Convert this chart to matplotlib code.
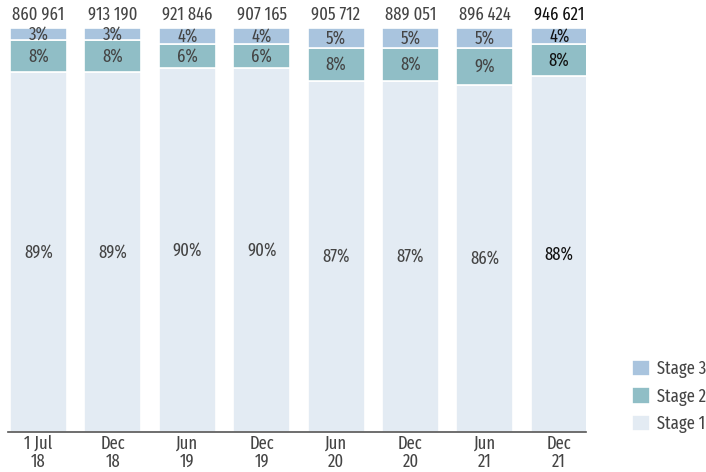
import numpy as np
import matplotlib.pyplot as plt

plt.rcParams['font.family'] = ['Fira Sans Extra Condensed', 'DejaVu Sans']

periods = ['1 Jul\n18', 'Dec\n18', 'Jun\n19', 'Dec\n19', 'Jun\n20', 'Dec\n20', 'Jun\n21', 'Dec\n21']
totals = ['860 961', '913 190', '921 846', '907 165', '905 712', '889 051', '896 424', '946 621']
stage1 = [89, 89, 90, 90, 87, 87, 86, 88]
stage2 = [8, 8, 6, 6, 8, 8, 9, 8]
stage3 = [3, 3, 4, 4, 5, 5, 5, 4]

c1 = '#e3ebf3'
c2 = '#90bec6'
c3 = '#a9c4de'

fig = plt.figure(figsize=(7.06, 4.72), dpi=100)
ax = fig.add_axes([8 / 706, 40 / 472, 578 / 706, 404 / 472])

x = np.arange(len(periods))
w = 0.766
s1 = np.array(stage1)
s2 = np.array(stage2)
s3 = np.array(stage3)

b1 = ax.bar(x, s1, w, color=c1, edgecolor='white', linewidth=1.2, label='Stage 1')
b2 = ax.bar(x, s2, w, bottom=s1, color=c2, edgecolor='white', linewidth=1.2, label='Stage 2')
b3 = ax.bar(x, s3, w, bottom=s1 + s2, color=c3, edgecolor='white', linewidth=1.2, label='Stage 3')

fs = 13
for i in range(len(periods)):
    col = '#111111' if i == len(periods) - 1 else '#444444'
    ax.text(x[i], s1[i] / 2, f'{stage1[i]}%', ha='center', va='center', fontsize=fs, color=col)
    ax.text(x[i], s1[i] + s2[i] / 2, f'{stage2[i]}%', ha='center', va='center', fontsize=fs, color=col)
    ax.text(x[i], s1[i] + s2[i] + s3[i] / 2, f'{stage3[i]}%', ha='center', va='center', fontsize=fs, color=col)
    ax.text(x[i], 101.2, totals[i], ha='center', va='bottom', fontsize=fs, color=col)

ax.set_xlim(-0.41, 7.36)
ax.set_ylim(0, 100)
ax.set_xticks(x)
ax.set_xticklabels(periods, fontsize=fs, color='#444444', linespacing=1.0)
ax.tick_params(axis='x', length=0, pad=2)
ax.set_yticks([])
for sp in ['top', 'right', 'left']:
    ax.spines[sp].set_visible(False)
ax.spines['bottom'].set_color('#555555')
ax.spines['bottom'].set_linewidth(1.2)

fig.legend(handles=[b3, b2, b1], labels=['Stage 3', 'Stage 2', 'Stage 1'],
           loc='lower left', bbox_to_anchor=(632 / 706, 39 / 472), frameon=False,
           borderpad=0, borderaxespad=0, fontsize=fs, handlelength=1.0, handleheight=1.0,
           labelspacing=0.5, handletextpad=0.4, labelcolor='#444444')

fig.savefig('out.png', dpi=100)
